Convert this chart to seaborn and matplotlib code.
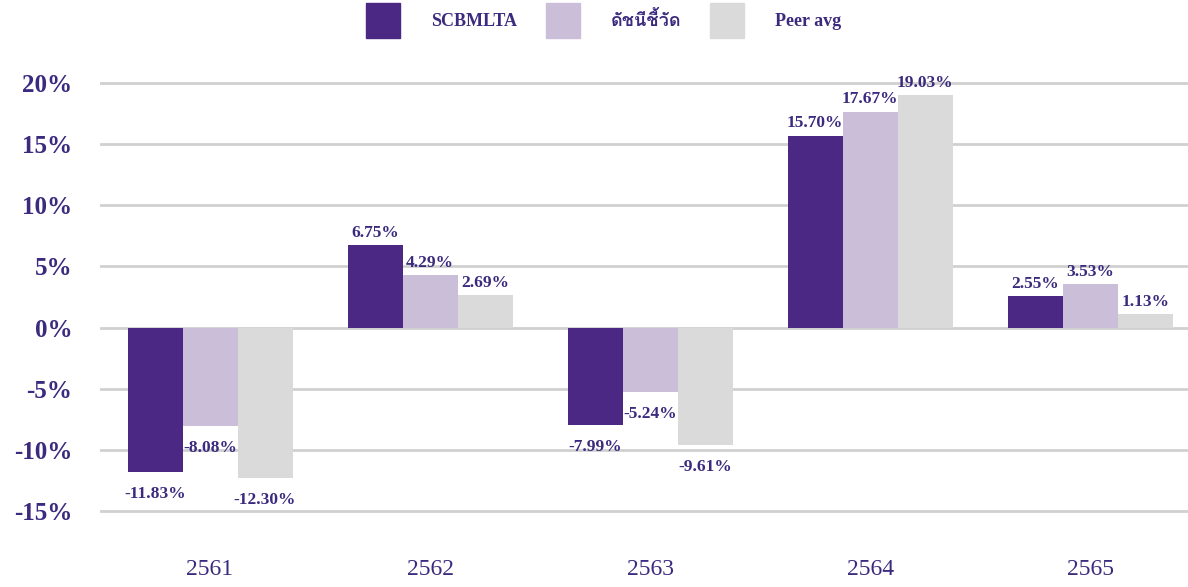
import seaborn as sns
import matplotlib.pyplot as plt
import pandas as pd
from matplotlib import font_manager
from matplotlib.ft2font import FT2Font

# ข้อมูลผลตอบแทนรายปี
years = ["2561", "2562", "2563", "2564", "2565"]
scbmlta = [-11.83, 6.75, -7.99, 15.70, 2.55]
benchmark = [-8.08, 4.29, -5.24, 17.67, 3.53]
peer_avg = [-12.30, 2.69, -9.61, 19.03, 1.13]
series_names = ["SCBMLTA", "ดัชนีชี้วัด", "Peer avg"]
ticks = [-15, -10, -5, 0, 5, 10, 15, 20]

df = pd.DataFrame({
    "year": years * 3,
    "series": [series_names[0]] * 5 + [series_names[1]] * 5 + [series_names[2]] * 5,
    "value": scbmlta + benchmark + peer_avg,
})

# หาฟอนต์ที่มีอักษรไทย
thai_fams = []
for f in font_manager.fontManager.ttflist:
    try:
        if FT2Font(f.fname).get_char_index(ord("ด")) and f.name not in thai_fams:
            thai_fams.append(f.name)
    except Exception:
        pass

sns.set_style("white")
plt.rcParams["font.family"] = ["Liberation Serif"] + thai_fams + ["DejaVu Sans"]
txt = "#3b2a7e"
colors = ["#4b2884", "#cbbed9", "#dadada"]

fig = plt.figure(figsize=(11.88, 5.87), dpi=100)
ax = fig.add_axes([0.0842, 0.1254, 0.926, 0.7373])

sns.barplot(data=df, x="year", y="value", hue="series", hue_order=series_names,
            palette=colors, width=0.75, saturation=1, ax=ax, legend=False,
            errorbar=None, linewidth=0, zorder=2)

ax.set_ylim(-15.2, 20.2)
ax.set_xlim(-0.5, 4.5)
ax.set_yticks(ticks)
ax.set_yticklabels([f"{t}%" for t in ticks], fontsize=18, fontweight="bold", color=txt)
ax.set_xticks(range(len(years)))
ax.set_xticklabels(years, fontsize=17, color=txt)
ax.tick_params(axis="x", pad=33, length=0)
ax.tick_params(axis="y", pad=20, length=0)
ax.yaxis.grid(True, color="#d0d0d0", linewidth=2, zorder=0)
ax.set_axisbelow(True)
ax.set_xlabel("")
ax.set_ylabel("")
sns.despine(ax=ax, left=True, bottom=True)

# ป้ายค่าบนแท่ง
for cont in ax.containers:
    for bar in cont:
        h = bar.get_height()
        xc = bar.get_x() + bar.get_width() / 2
        if h >= 0:
            ax.annotate(f"{h:.2f}%", (xc, h), xytext=(0, 3), textcoords="offset points",
                        ha="center", va="bottom", fontsize=12.5, fontweight="bold", color=txt)
        else:
            ax.annotate(f"{h:.2f}%", (xc, h), xytext=(0, -10), textcoords="offset points",
                        ha="center", va="top", fontsize=12.5, fontweight="bold", color=txt)

handles = [plt.Rectangle((0, 0), 1, 1, color=c) for c in colors]
leg = fig.legend(handles, series_names, loc="upper center", bbox_to_anchor=(0.508, 1.022),
                 ncol=3, frameon=False, handlelength=1.9, handleheight=2.6,
                 handletextpad=1.7, columnspacing=1.6,
                 prop={"weight": "bold", "size": 13})
for t in leg.get_texts():
    t.set_color(txt)

fig.savefig("out.png", dpi=100)
